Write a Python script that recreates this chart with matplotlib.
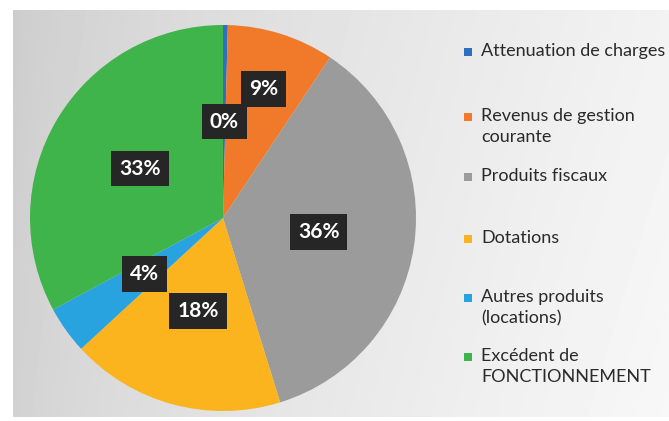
import numpy as np
import matplotlib
matplotlib.use('Agg')
import matplotlib.pyplot as plt

# ── Data ───────────────────────────────────────────────────────────────────
CATEGORIES = [
    'Attenuation de charges',
    'Revenus de gestion\ncourante',
    'Produits fiscaux',
    'Dotations',
    'Autres produits\n(locations)',
    'Excédent de\nFONCTIONNEMENT',
]
SHARES = [0.4, 9, 36, 18, 4, 33]  # percent
COLORS = ['#2e6fc0', '#f07a2a', '#9b9b9b', '#fbb41e', '#29a3df', '#3fb44a']

W, H = 669, 421
plt.rcParams['font.family'] = ['Lato', 'DejaVu Sans']

fig = plt.figure(figsize=(W / 100, H / 100), dpi=100)
fig.patch.set_facecolor('white')

# ── Background panel (light grey gradient) ─────────────────────────────────
bg = fig.add_axes([13 / W, 4 / H, 1 - 13 / W, (H - 10 - 4) / H])
gx = np.linspace(0, 1, 200)
gy = np.linspace(0, 1, 100)[:, None]
grad = 0.80 + 0.15 * gx[None, :] ** 0.7 + 0.02 * gy
bg.imshow(grad, cmap='gray', vmin=0, vmax=1, aspect='auto',
          extent=(0, 1, 0, 1), interpolation='bilinear')
bg.set_axis_off()

# ── Pie ────────────────────────────────────────────────────────────────────
cx, cy, r = 223, 218, 193
ax = fig.add_axes([(cx - r) / W, (H - cy - r) / H, 2 * r / W, 2 * r / H])
wedges, _ = ax.pie(SHARES, colors=COLORS, startangle=90, counterclock=False,
                   radius=1.0, wedgeprops=dict(linewidth=0))
ax.set_xlim(-1, 1)
ax.set_ylim(-1, 1)
ax.set_aspect('auto')
ax.set_axis_off()

# data labels in dark boxes
for i, w in enumerate(wedges):
    mid = np.deg2rad((w.theta1 + w.theta2) / 2)
    dist = 0.7 if i == 1 else 0.5
    ax.text(dist * np.cos(mid), dist * np.sin(mid), f'{SHARES[i]:.0f}%',
            ha='center', va='center', color='white', fontsize=15,
            fontweight='bold',
            bbox=dict(boxstyle='square,pad=0.38', fc='#262626', ec='none'))

# ── Legend ─────────────────────────────────────────────────────────────────
legend_top = [43, 108, 168, 230, 289, 348]
for name, col, y in zip(CATEGORIES, COLORS, legend_top):
    fig.patches.append(plt.Rectangle((464 / W, (H - y - 13) / H), 8 / W, 8 / H,
                                     transform=fig.transFigure, fc=col,
                                     ec='none'))
    fig.text(481 / W, (H - y) / H, name, ha='left', va='top', fontsize=13,
             color='#2a2a2a', linespacing=1.38)

fig.savefig('out.png', dpi=100)
